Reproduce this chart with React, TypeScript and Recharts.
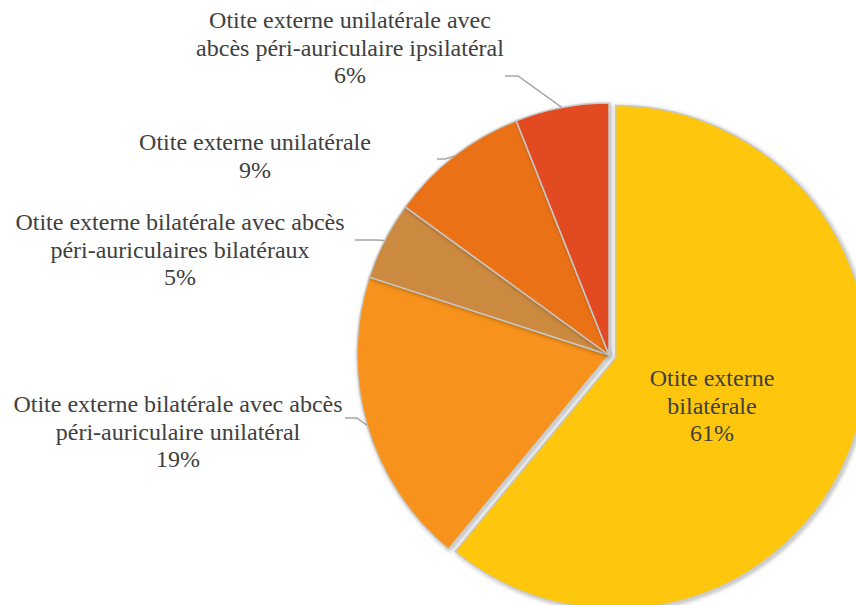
import React from "react";
import { PieChart, Pie, Cell, Sector } from "recharts";

const categories = [
    "Otite externe bilatérale",
    "Otite externe bilatérale avec abcès péri-auriculaire unilatéral",
    "Otite externe bilatérale avec abcès péri-auriculaires bilatéraux",
    "Otite externe unilatérale",
    "Otite externe unilatérale avec abcès péri-auriculaire ipsilatéral",
];

const values = [61, 19, 5, 9, 6];

// how each category label is broken into lines on the picture
const labelLines = [
    ["Otite externe", "bilatérale"],
    ["Otite externe bilatérale avec abcès", "péri-auriculaire unilatéral"],
    ["Otite externe bilatérale avec abcès", "péri-auriculaires bilatéraux"],
    ["Otite externe unilatérale"],
    ["Otite externe unilatérale avec", "abcès péri-auriculaire ipsilatéral"],
];

const colors = ["#FEC70A", "#F7931E", "#CC8A3F", "#EA7117", "#E24B24"];

// text placement (centre x, centre y of first line) and leader start near the text
const labelLayout = [
    { x: 712, y: 378, leader: null },
    { x: 178, y: 404, leader: [[345, 418], [357, 418]] },
    { x: 180, y: 222, leader: [[355, 240], [376, 240]] },
    { x: 255, y: 142, leader: [[437, 159], [445, 159]] },
    { x: 350, y: 20, leader: [[505, 76], [518, 76]] },
];

const data = categories.map((name, i) => ({ name, value: values[i] }));

const RADIAN = Math.PI / 180;
const FONT = "'Liberation Serif', Tinos, 'DejaVu Serif', serif";
const EXPLODE = 7;

const renderShape = (props: any) => {
    const first = props.payload?.name === categories[0] || props.name === categories[0];
    const dx = first ? EXPLODE * Math.cos(-props.midAngle * RADIAN) : 0;
    const dy = first ? EXPLODE * Math.sin(-props.midAngle * RADIAN) : 0;
    return <Sector {...props} cx={props.cx + dx} cy={props.cy + dy} filter="url(#sliceShadow)" />;
};

const renderLabel = (props: any) => {
    const { cx, cy, midAngle, outerRadius, index, value } = props;
    const lay = labelLayout[index];
    const lines = [...labelLines[index], `${value}%`];
    const ax = cx + outerRadius * Math.cos(-midAngle * RADIAN);
    const ay = cy + outerRadius * Math.sin(-midAngle * RADIAN);
    return (
        <g key={`lab-${index}`}>
            {lay.leader && (
                <polyline
                    points={`${lay.leader[0][0]},${lay.leader[0][1]} ${lay.leader[1][0]},${lay.leader[1][1]} ${ax},${ay}`}
                    fill="none"
                    stroke="#A6A6A6"
                    strokeWidth={1.5}
                />
            )}
            {lines.map((t, k) => (
                <text
                    key={k}
                    x={lay.x}
                    y={lay.y + k * 27.5}
                    textAnchor="middle"
                    dominantBaseline="central"
                    fill="#404040"
                    style={{ fontFamily: FONT, fontSize: 24 }}
                >
                    {t}
                </text>
            ))}
        </g>
    );
};

const App = () => {
    return (
        <div style={{ position: "absolute", left: 0, top: 0, width: 856, height: 605, overflow: "hidden", background: "#fff", fontFamily: FONT }}>
            <svg width={0} height={0} style={{ position: "absolute" }}>
                <defs>
                    <filter id="sliceShadow" x="-20%" y="-20%" width="140%" height="140%">
                        <feDropShadow dx={1.5} dy={1.5} stdDeviation={2} floodColor="#000" floodOpacity={0.3} />
                    </filter>
                </defs>
            </svg>
            <PieChart width={856} height={605} margin={{ top: 0, right: 0, bottom: 0, left: 0 }}>
                <Pie
                    data={data}
                    dataKey="value"
                    nameKey="name"
                    cx={609}
                    cy={355}
                    outerRadius={252}
                    startAngle={90}
                    endAngle={-270}
                    stroke="#C8C8C8"
                    strokeWidth={1.5}
                    shape={renderShape}
                    label={renderLabel}
                    labelLine={false}
                    isAnimationActive={false}
                >
                    {data.map((d, i) => (
                        <Cell key={d.name} fill={colors[i]} />
                    ))}
                </Pie>
            </PieChart>
        </div>
    );
};

export default App;
